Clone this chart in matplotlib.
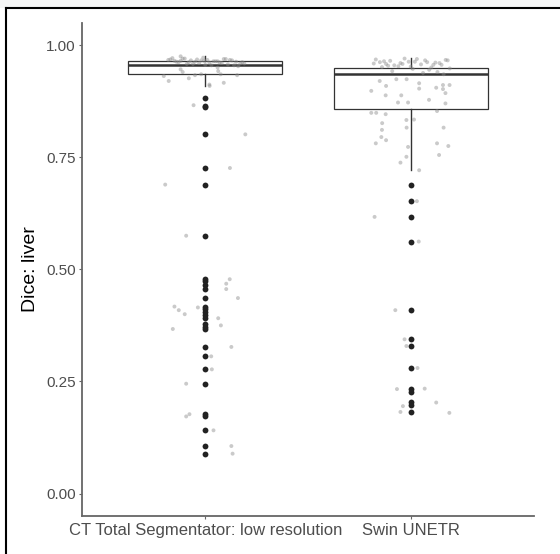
import numpy as np
import matplotlib.pyplot as plt
from matplotlib.lines import Line2D
from matplotlib.patches import Rectangle

plt.rcParams['font.family'] = ['Liberation Sans', 'DejaVu Sans']

# categories and box statistics
labels = ['CT Total Segmentator: low resolution', 'Swin UNETR']
medians = [0.955, 0.936]
q1s = [0.935, 0.857]
q3s = [0.964, 0.950]
whis_lo = [0.909, 0.722]
whis_hi = [0.975, 0.972]

# outliers (black dots)
out1 = [0.881, 0.864, 0.861, 0.801, 0.726, 0.689, 0.575, 0.478, 0.473, 0.465,
        0.456, 0.436, 0.417, 0.411, 0.406, 0.398, 0.391, 0.378, 0.372, 0.366,
        0.327, 0.306, 0.277, 0.245, 0.178, 0.172, 0.141, 0.107, 0.089]
out2 = [0.688, 0.652, 0.617, 0.562, 0.409, 0.344, 0.329, 0.280, 0.234, 0.227,
        0.204, 0.197, 0.181]

# jittered points: values and horizontal jitter
jit1_val = [0.575, 0.478, 0.468, 0.456, 0.436, 0.417, 0.409, 0.415, 0.400, 0.391,
            0.375, 0.367, 0.327, 0.306, 0.277, 0.245, 0.172, 0.177, 0.141, 0.106,
            0.089, 0.866, 0.801, 0.726, 0.689, 0.909, 0.916, 0.920, 0.931, 0.975,
            0.926, 0.933, 0.935, 0.935, 0.912, 0.933, 0.942, 0.946, 0.940,
            0.968, 0.965, 0.962, 0.970, 0.958, 0.966, 0.963, 0.960, 0.972, 0.967,
            0.955, 0.964, 0.961, 0.969, 0.957, 0.966, 0.963, 0.959, 0.971, 0.965,
            0.962, 0.968, 0.956, 0.964, 0.960, 0.967, 0.953, 0.963, 0.970, 0.958,
            0.966, 0.961, 0.964, 0.969, 0.955, 0.962, 0.967, 0.959, 0.965, 0.950]
jit1_dx = [-0.093, 0.119, 0.102, 0.102, 0.159, -0.150, -0.129, -0.036, -0.100, 0.063,
           0.076, -0.158, 0.127, 0.029, 0.032, -0.093, -0.093, -0.077, 0.040, 0.127,
           0.133, -0.057, 0.195, 0.120, -0.195, 0.021, 0.090, -0.178, -0.202, -0.120,
           -0.080, -0.050, -0.020, 0.075, 0.020, 0.155, 0.063, -0.120, -0.110,
           -0.17, -0.15, -0.13, -0.11, -0.09, -0.07, -0.05, -0.03, -0.01, 0.01,
           0.03, 0.05, 0.07, 0.09, 0.11, 0.13, 0.15, 0.17, -0.16, -0.12,
           -0.08, -0.04, 0.0, 0.04, 0.08, 0.12, 0.16, -0.14, -0.10, -0.06,
           -0.02, 0.02, 0.06, 0.10, 0.14, 0.18, -0.18, 0.19, -0.005, 0.06]

jit2_val = [0.898, 0.888, 0.888, 0.872, 0.872, 0.878, 0.870, 0.905, 0.902, 0.893,
            0.911, 0.911, 0.903, 0.915, 0.920, 0.909, 0.924, 0.924, 0.849, 0.849,
            0.846, 0.853, 0.833, 0.834, 0.826, 0.816, 0.811, 0.816, 0.795, 0.788,
            0.781, 0.781, 0.773, 0.775, 0.755, 0.751, 0.738, 0.721,
            0.652, 0.617, 0.562, 0.409, 0.344, 0.329, 0.280, 0.233, 0.234, 0.203,
            0.195, 0.182, 0.180,
            0.968, 0.962, 0.958, 0.965, 0.955, 0.960, 0.970, 0.952, 0.963, 0.957,
            0.966, 0.950, 0.961, 0.956, 0.967, 0.948, 0.959, 0.964, 0.953, 0.969,
            0.945, 0.960, 0.942, 0.956, 0.963, 0.938, 0.951, 0.966, 0.947, 0.958,
            0.940, 0.962, 0.954, 0.935]
jit2_dx = [-0.192, -0.122, -0.046, -0.062, -0.013, 0.089, 0.169, 0.124, 0.157, 0.169,
           0.189, 0.157, 0.041, 0.041, -0.151, -0.120, -0.070, -0.020, -0.192, -0.168,
           -0.122, 0.128, -0.021, 0.016, -0.139, -0.020, -0.140, 0.160, -0.143, -0.120,
           -0.170, 0.128, -0.013, 0.183, 0.138, -0.021, -0.050, 0.041,
           0.030, -0.176, 0.039, -0.075, -0.030, -0.021, 0.033, -0.067, 0.068, 0.124,
           -0.038, -0.050, 0.188,
           -0.17, -0.15, -0.12, -0.10, -0.08, -0.05, -0.03, 0.0, 0.02, 0.05,
           0.07, 0.10, 0.12, 0.15, 0.17, 0.19, -0.18, -0.13, -0.06, 0.03,
           0.09, 0.14, -0.09, 0.11, -0.01, 0.06, -0.14, 0.18, 0.01, -0.04,
           0.13, 0.08, -0.11, 0.16]

fig = plt.figure(figsize=(5.6, 5.54), dpi=100)
ax = fig.add_axes([82 / 560, 1 - 516 / 554, (534 - 82) / 560, (516 - 22.7) / 554])

stats = []
for i in range(2):
    stats.append(dict(med=medians[i], q1=q1s[i], q3=q3s[i],
                      whislo=whis_lo[i], whishi=whis_hi[i],
                      fliers=[out1, out2][i], label=labels[i]))

ax.bxp(stats, positions=[1, 2], widths=0.75, showcaps=False, patch_artist=True,
       boxprops=dict(facecolor='white', edgecolor='#333333', linewidth=0.9),
       medianprops=dict(color='#333333', linewidth=1.8),
       whiskerprops=dict(color='#333333', linewidth=1.0),
       flierprops=dict(marker='o', markerfacecolor='#222222', markeredgecolor='none',
                       markersize=4.2))

ax.scatter(1 + np.array(jit1_dx), jit1_val, s=8, color='#8a8a8a', alpha=0.45,
           edgecolors='none', zorder=4)
ax.scatter(2 + np.array(jit2_dx), jit2_val, s=8, color='#8a8a8a', alpha=0.45,
           edgecolors='none', zorder=4)

ax.set_xlim(0.4, 2.6)
ax.set_ylim(-0.05, 1.05)
ax.set_yticks([0, 0.25, 0.5, 0.75, 1.0])
ax.set_yticklabels(['0.00', '0.25', '0.50', '0.75', '1.00'])
ax.set_xticks([1, 2])
ax.set_xticklabels(labels)
ax.set_ylabel('Dice: liver', fontsize=14, color='black', labelpad=5)

for s in ['top', 'right']:
    ax.spines[s].set_visible(False)
for s in ['left', 'bottom']:
    ax.spines[s].set_color('#666666')
    ax.spines[s].set_linewidth(1.3)
ax.tick_params(length=2.5, width=0.8, color='#666666', labelcolor='#4d4d4d',
               labelsize=11, pad=2)
ax.tick_params(axis='x', labelsize=12, pad=2.5)

# screenshot frame
fig.add_artist(Rectangle((0, 1 - 8 / 554), 1, 8 / 554, transform=fig.transFigure,
                         facecolor='#f5f6f6', edgecolor='none'))
fig.add_artist(Line2D([6 / 560, 1], [1 - 8 / 554, 1 - 8 / 554], transform=fig.transFigure,
                      color='black', linewidth=1.5))
fig.add_artist(Line2D([6 / 560, 6 / 560], [0, 1 - 8 / 554], transform=fig.transFigure,
                      color='black', linewidth=1.5))

fig.savefig('out.png', dpi=100)
